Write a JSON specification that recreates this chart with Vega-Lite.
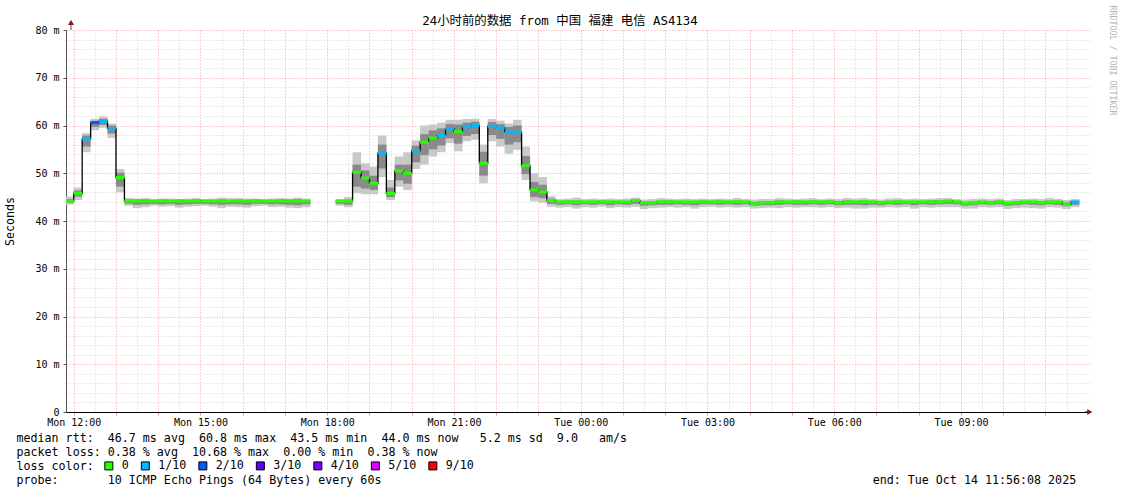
{
 "$schema": "https://vega.github.io/schema/vega-lite/v6.json",
 "width": 1024, "height": 382,
 "autosize": "none",
 "padding": {"left": 66, "top": 30, "right": 31, "bottom": 82},
 "background": "white",
 "config": {"view": {"stroke": null}, "font": "DejaVu Sans Mono"},
 "title": {"text": "24小时前的数据 from 中国 福建 电信 AS4134", "anchor": "middle", "frame": "group", "dx": -18, "dy": 26, "font": "DejaVu Sans Mono, Noto Sans CJK SC", "fontSize": 12.4, "fontWeight": "normal", "color": "#000"},
 "data": {"values": [
  {"t":"2025-10-13T11:54:00Z","lo":43.4,"l2":43.8,"m":44.2,"h2":44.6,"hi":45.1,"c":"0"},
  {"t":"2025-10-13T12:06:00Z","lo":44.4,"l2":45.1,"m":45.8,"h2":46.4,"hi":47.0,"c":"0"},
  {"t":"2025-10-13T12:18:00Z","lo":54.4,"l2":55.6,"m":57.2,"h2":57.9,"hi":58.4,"c":"1/10"},
  {"t":"2025-10-13T12:30:00Z","lo":59.0,"l2":59.7,"m":60.6,"h2":61.0,"hi":61.4,"c":"2/10"},
  {"t":"2025-10-13T12:42:00Z","lo":59.5,"l2":60.1,"m":60.9,"h2":61.4,"hi":61.9,"c":"1/10"},
  {"t":"2025-10-13T12:54:00Z","lo":57.4,"l2":58.3,"m":59.4,"h2":60.0,"hi":60.4,"c":"1/10"},
  {"t":"2025-10-13T13:06:00Z","lo":46.0,"l2":47.2,"m":49.1,"h2":50.1,"hi":50.9,"c":"0"},
  {"t":"2025-10-13T13:18:00Z","lo":43.2,"l2":43.6,"m":44.2,"h2":44.5,"hi":44.8,"c":"0"},
  {"t":"2025-10-13T13:30:00Z","lo":42.7,"l2":43.4,"m":44.2,"h2":44.5,"hi":44.7,"c":"0"},
  {"t":"2025-10-13T13:42:00Z","lo":42.9,"l2":43.5,"m":44.2,"h2":44.5,"hi":44.8,"c":"0"},
  {"t":"2025-10-13T13:54:00Z","lo":43.2,"l2":43.6,"m":44.2,"h2":44.4,"hi":44.6,"c":"0"},
  {"t":"2025-10-13T14:06:00Z","lo":43.0,"l2":43.5,"m":44.2,"h2":44.5,"hi":44.7,"c":"0"},
  {"t":"2025-10-13T14:18:00Z","lo":43.1,"l2":43.6,"m":44.2,"h2":44.4,"hi":44.7,"c":"0"},
  {"t":"2025-10-13T14:30:00Z","lo":42.8,"l2":43.4,"m":44.2,"h2":44.5,"hi":44.6,"c":"0"},
  {"t":"2025-10-13T14:42:00Z","lo":43.0,"l2":43.5,"m":44.2,"h2":44.4,"hi":44.7,"c":"0"},
  {"t":"2025-10-13T14:54:00Z","lo":43.1,"l2":43.6,"m":44.2,"h2":44.5,"hi":44.8,"c":"0"},
  {"t":"2025-10-13T15:06:00Z","lo":43.2,"l2":43.6,"m":44.2,"h2":44.4,"hi":44.6,"c":"0"},
  {"t":"2025-10-13T15:18:00Z","lo":43.0,"l2":43.5,"m":44.2,"h2":44.4,"hi":44.7,"c":"0"},
  {"t":"2025-10-13T15:30:00Z","lo":42.7,"l2":43.4,"m":44.2,"h2":44.5,"hi":44.9,"c":"0"},
  {"t":"2025-10-13T15:42:00Z","lo":43.0,"l2":43.5,"m":44.2,"h2":44.4,"hi":44.8,"c":"0"},
  {"t":"2025-10-13T15:54:00Z","lo":42.9,"l2":43.5,"m":44.2,"h2":44.5,"hi":44.8,"c":"0"},
  {"t":"2025-10-13T16:06:00Z","lo":42.8,"l2":43.4,"m":44.2,"h2":44.4,"hi":44.7,"c":"0"},
  {"t":"2025-10-13T16:18:00Z","lo":43.1,"l2":43.6,"m":44.2,"h2":44.5,"hi":44.7,"c":"0"},
  {"t":"2025-10-13T16:30:00Z","lo":43.2,"l2":43.6,"m":44.2,"h2":44.4,"hi":44.6,"c":"0"},
  {"t":"2025-10-13T16:42:00Z","lo":42.9,"l2":43.5,"m":44.2,"h2":44.4,"hi":44.7,"c":"0"},
  {"t":"2025-10-13T16:54:00Z","lo":43.0,"l2":43.5,"m":44.2,"h2":44.5,"hi":44.8,"c":"0"},
  {"t":"2025-10-13T17:06:00Z","lo":42.8,"l2":43.4,"m":44.2,"h2":44.5,"hi":44.7,"c":"0"},
  {"t":"2025-10-13T17:18:00Z","lo":42.7,"l2":43.3,"m":44.2,"h2":44.6,"hi":44.9,"c":"0"},
  {"t":"2025-10-13T17:30:00Z","lo":42.9,"l2":43.5,"m":44.2,"h2":44.4,"hi":44.7,"c":"0"},
  {"t":"2025-10-13T17:42:00Z","lo":null,"l2":null,"m":null,"h2":null,"hi":null,"c":"0"},
  {"t":"2025-10-13T17:54:00Z","lo":null,"l2":null,"m":null,"h2":null,"hi":null,"c":"0"},
  {"t":"2025-10-13T18:06:00Z","lo":null,"l2":null,"m":null,"h2":null,"hi":null,"c":"0"},
  {"t":"2025-10-13T18:18:00Z","lo":43.2,"l2":43.6,"m":44.2,"h2":44.4,"hi":44.6,"c":"0"},
  {"t":"2025-10-13T18:30:00Z","lo":42.9,"l2":43.4,"m":44.2,"h2":44.5,"hi":45.0,"c":"0"},
  {"t":"2025-10-13T18:42:00Z","lo":45.8,"l2":47.2,"m":50.2,"h2":51.8,"hi":54.4,"c":"0"},
  {"t":"2025-10-13T18:54:00Z","lo":45.6,"l2":46.8,"m":49.0,"h2":50.6,"hi":52.1,"c":"0"},
  {"t":"2025-10-13T19:06:00Z","lo":45.6,"l2":46.5,"m":47.9,"h2":49.5,"hi":51.4,"c":"0"},
  {"t":"2025-10-13T19:18:00Z","lo":49.2,"l2":51.0,"m":54.2,"h2":56.0,"hi":57.9,"c":"1/10"},
  {"t":"2025-10-13T19:30:00Z","lo":44.4,"l2":45.0,"m":45.8,"h2":47.0,"hi":48.6,"c":"0"},
  {"t":"2025-10-13T19:42:00Z","lo":47.2,"l2":48.5,"m":50.5,"h2":51.8,"hi":53.5,"c":"0"},
  {"t":"2025-10-13T19:54:00Z","lo":46.5,"l2":47.8,"m":50.0,"h2":51.8,"hi":54.4,"c":"0"},
  {"t":"2025-10-13T20:06:00Z","lo":50.9,"l2":52.3,"m":54.7,"h2":55.8,"hi":56.9,"c":"1/10"},
  {"t":"2025-10-13T20:18:00Z","lo":51.8,"l2":53.8,"m":56.5,"h2":58.2,"hi":60.0,"c":"0"},
  {"t":"2025-10-13T20:30:00Z","lo":53.5,"l2":55.0,"m":57.4,"h2":59.0,"hi":60.2,"c":"0"},
  {"t":"2025-10-13T20:42:00Z","lo":54.4,"l2":55.8,"m":57.9,"h2":59.4,"hi":60.6,"c":"1/10"},
  {"t":"2025-10-13T20:54:00Z","lo":56.3,"l2":57.3,"m":59.3,"h2":60.3,"hi":61.2,"c":"1/10"},
  {"t":"2025-10-13T21:06:00Z","lo":54.6,"l2":56.2,"m":58.7,"h2":60.2,"hi":61.2,"c":"0"},
  {"t":"2025-10-13T21:18:00Z","lo":56.7,"l2":57.8,"m":59.7,"h2":60.6,"hi":61.4,"c":"1/10"},
  {"t":"2025-10-13T21:30:00Z","lo":57.0,"l2":58.2,"m":60.0,"h2":60.8,"hi":61.4,"c":"1/10"},
  {"t":"2025-10-13T21:42:00Z","lo":47.9,"l2":49.5,"m":52.1,"h2":54.5,"hi":56.0,"c":"0"},
  {"t":"2025-10-13T21:54:00Z","lo":56.7,"l2":58.0,"m":59.8,"h2":60.7,"hi":61.4,"c":"1/10"},
  {"t":"2025-10-13T22:06:00Z","lo":55.6,"l2":57.2,"m":59.5,"h2":60.3,"hi":61.0,"c":"1/10"},
  {"t":"2025-10-13T22:18:00Z","lo":54.1,"l2":56.0,"m":58.6,"h2":59.7,"hi":60.4,"c":"1/10"},
  {"t":"2025-10-13T22:30:00Z","lo":54.9,"l2":56.5,"m":58.6,"h2":60.0,"hi":61.2,"c":"1/10"},
  {"t":"2025-10-13T22:42:00Z","lo":48.6,"l2":49.8,"m":51.6,"h2":53.6,"hi":55.6,"c":"0"},
  {"t":"2025-10-13T22:54:00Z","lo":44.1,"l2":45.0,"m":46.5,"h2":48.2,"hi":50.0,"c":"0"},
  {"t":"2025-10-13T23:06:00Z","lo":43.8,"l2":44.8,"m":46.1,"h2":47.6,"hi":49.2,"c":"0"},
  {"t":"2025-10-13T23:18:00Z","lo":43.0,"l2":43.6,"m":44.3,"h2":44.7,"hi":45.2,"c":"0"},
  {"t":"2025-10-13T23:30:00Z","lo":42.8,"l2":43.4,"m":44.0,"h2":44.2,"hi":44.6,"c":"0"},
  {"t":"2025-10-13T23:42:00Z","lo":42.9,"l2":43.5,"m":44.0,"h2":44.3,"hi":44.7,"c":"0"},
  {"t":"2025-10-13T23:54:00Z","lo":42.6,"l2":43.3,"m":44.0,"h2":44.3,"hi":44.9,"c":"0"},
  {"t":"2025-10-14T00:06:00Z","lo":42.9,"l2":43.5,"m":44.0,"h2":44.2,"hi":44.6,"c":"0"},
  {"t":"2025-10-14T00:18:00Z","lo":42.8,"l2":43.4,"m":44.0,"h2":44.2,"hi":44.7,"c":"0"},
  {"t":"2025-10-14T00:30:00Z","lo":43.0,"l2":43.5,"m":44.0,"h2":44.3,"hi":44.6,"c":"0"},
  {"t":"2025-10-14T00:42:00Z","lo":42.7,"l2":43.3,"m":44.0,"h2":44.2,"hi":44.7,"c":"0"},
  {"t":"2025-10-14T00:54:00Z","lo":42.9,"l2":43.5,"m":44.0,"h2":44.2,"hi":44.6,"c":"0"},
  {"t":"2025-10-14T01:06:00Z","lo":42.8,"l2":43.4,"m":44.0,"h2":44.2,"hi":44.7,"c":"0"},
  {"t":"2025-10-14T01:18:00Z","lo":43.0,"l2":43.6,"m":44.3,"h2":44.5,"hi":44.9,"c":"0"},
  {"t":"2025-10-14T01:30:00Z","lo":42.5,"l2":43.2,"m":43.8,"h2":44.1,"hi":44.5,"c":"0"},
  {"t":"2025-10-14T01:42:00Z","lo":42.7,"l2":43.3,"m":43.8,"h2":44.1,"hi":44.6,"c":"0"},
  {"t":"2025-10-14T01:54:00Z","lo":42.8,"l2":43.4,"m":44.0,"h2":44.3,"hi":44.8,"c":"0"},
  {"t":"2025-10-14T02:06:00Z","lo":42.9,"l2":43.4,"m":44.0,"h2":44.3,"hi":44.7,"c":"0"},
  {"t":"2025-10-14T02:18:00Z","lo":42.8,"l2":43.5,"m":44.0,"h2":44.2,"hi":44.6,"c":"0"},
  {"t":"2025-10-14T02:30:00Z","lo":42.9,"l2":43.4,"m":44.0,"h2":44.2,"hi":44.7,"c":"0"},
  {"t":"2025-10-14T02:42:00Z","lo":42.6,"l2":43.3,"m":44.0,"h2":44.2,"hi":44.6,"c":"0"},
  {"t":"2025-10-14T02:54:00Z","lo":42.9,"l2":43.5,"m":44.0,"h2":44.3,"hi":44.7,"c":"0"},
  {"t":"2025-10-14T03:06:00Z","lo":43.0,"l2":43.5,"m":44.0,"h2":44.2,"hi":44.6,"c":"0"},
  {"t":"2025-10-14T03:18:00Z","lo":42.8,"l2":43.4,"m":44.0,"h2":44.3,"hi":44.7,"c":"0"},
  {"t":"2025-10-14T03:30:00Z","lo":42.9,"l2":43.5,"m":44.0,"h2":44.2,"hi":44.6,"c":"0"},
  {"t":"2025-10-14T03:42:00Z","lo":42.8,"l2":43.4,"m":44.0,"h2":44.3,"hi":44.8,"c":"0"},
  {"t":"2025-10-14T03:54:00Z","lo":42.9,"l2":43.5,"m":44.0,"h2":44.2,"hi":44.6,"c":"0"},
  {"t":"2025-10-14T04:06:00Z","lo":42.6,"l2":43.2,"m":43.6,"h2":44.0,"hi":44.5,"c":"0"},
  {"t":"2025-10-14T04:18:00Z","lo":42.7,"l2":43.3,"m":43.8,"h2":44.1,"hi":44.6,"c":"0"},
  {"t":"2025-10-14T04:30:00Z","lo":42.8,"l2":43.3,"m":43.8,"h2":44.1,"hi":44.6,"c":"0"},
  {"t":"2025-10-14T04:42:00Z","lo":42.7,"l2":43.4,"m":44.0,"h2":44.3,"hi":44.8,"c":"0"},
  {"t":"2025-10-14T04:54:00Z","lo":42.9,"l2":43.5,"m":44.0,"h2":44.2,"hi":44.7,"c":"0"},
  {"t":"2025-10-14T05:06:00Z","lo":42.8,"l2":43.4,"m":44.0,"h2":44.3,"hi":44.6,"c":"0"},
  {"t":"2025-10-14T05:18:00Z","lo":42.9,"l2":43.4,"m":44.0,"h2":44.2,"hi":44.7,"c":"0"},
  {"t":"2025-10-14T05:30:00Z","lo":42.9,"l2":43.5,"m":44.0,"h2":44.3,"hi":44.8,"c":"0"},
  {"t":"2025-10-14T05:42:00Z","lo":42.8,"l2":43.4,"m":44.0,"h2":44.2,"hi":44.6,"c":"0"},
  {"t":"2025-10-14T05:54:00Z","lo":42.9,"l2":43.5,"m":44.0,"h2":44.3,"hi":44.7,"c":"0"},
  {"t":"2025-10-14T06:06:00Z","lo":42.7,"l2":43.3,"m":43.8,"h2":44.1,"hi":44.6,"c":"0"},
  {"t":"2025-10-14T06:18:00Z","lo":42.8,"l2":43.4,"m":44.0,"h2":44.3,"hi":44.8,"c":"0"},
  {"t":"2025-10-14T06:30:00Z","lo":42.6,"l2":43.4,"m":44.0,"h2":44.2,"hi":44.7,"c":"0"},
  {"t":"2025-10-14T06:42:00Z","lo":42.6,"l2":43.3,"m":44.0,"h2":44.3,"hi":44.8,"c":"0"},
  {"t":"2025-10-14T06:54:00Z","lo":42.8,"l2":43.4,"m":44.0,"h2":44.2,"hi":44.6,"c":"0"},
  {"t":"2025-10-14T07:06:00Z","lo":42.8,"l2":43.3,"m":43.8,"h2":44.1,"hi":44.5,"c":"0"},
  {"t":"2025-10-14T07:18:00Z","lo":42.9,"l2":43.5,"m":44.0,"h2":44.2,"hi":44.7,"c":"0"},
  {"t":"2025-10-14T07:30:00Z","lo":42.8,"l2":43.4,"m":44.0,"h2":44.3,"hi":44.8,"c":"0"},
  {"t":"2025-10-14T07:42:00Z","lo":42.9,"l2":43.5,"m":44.0,"h2":44.2,"hi":44.6,"c":"0"},
  {"t":"2025-10-14T07:54:00Z","lo":42.6,"l2":43.3,"m":44.0,"h2":44.2,"hi":44.7,"c":"0"},
  {"t":"2025-10-14T08:06:00Z","lo":42.9,"l2":43.5,"m":44.0,"h2":44.2,"hi":44.6,"c":"0"},
  {"t":"2025-10-14T08:18:00Z","lo":42.8,"l2":43.4,"m":44.0,"h2":44.3,"hi":44.7,"c":"0"},
  {"t":"2025-10-14T08:30:00Z","lo":42.9,"l2":43.5,"m":44.0,"h2":44.3,"hi":44.8,"c":"0"},
  {"t":"2025-10-14T08:42:00Z","lo":42.9,"l2":43.6,"m":44.2,"h2":44.4,"hi":44.8,"c":"0"},
  {"t":"2025-10-14T08:54:00Z","lo":42.9,"l2":43.5,"m":44.0,"h2":44.2,"hi":44.6,"c":"0"},
  {"t":"2025-10-14T09:06:00Z","lo":42.6,"l2":43.2,"m":43.7,"h2":44.0,"hi":44.5,"c":"0"},
  {"t":"2025-10-14T09:18:00Z","lo":42.6,"l2":43.3,"m":43.8,"h2":44.1,"hi":44.6,"c":"0"},
  {"t":"2025-10-14T09:30:00Z","lo":42.9,"l2":43.5,"m":44.0,"h2":44.2,"hi":44.7,"c":"0"},
  {"t":"2025-10-14T09:42:00Z","lo":42.8,"l2":43.4,"m":43.8,"h2":44.1,"hi":44.6,"c":"0"},
  {"t":"2025-10-14T09:54:00Z","lo":42.9,"l2":43.5,"m":44.0,"h2":44.3,"hi":44.7,"c":"0"},
  {"t":"2025-10-14T10:06:00Z","lo":42.5,"l2":43.2,"m":43.7,"h2":44.0,"hi":44.4,"c":"0"},
  {"t":"2025-10-14T10:18:00Z","lo":42.7,"l2":43.3,"m":43.8,"h2":44.1,"hi":44.6,"c":"0"},
  {"t":"2025-10-14T10:30:00Z","lo":42.8,"l2":43.5,"m":44.0,"h2":44.2,"hi":44.6,"c":"0"},
  {"t":"2025-10-14T10:42:00Z","lo":42.7,"l2":43.4,"m":44.0,"h2":44.2,"hi":44.7,"c":"0"},
  {"t":"2025-10-14T10:54:00Z","lo":42.6,"l2":43.3,"m":43.8,"h2":44.1,"hi":44.6,"c":"0"},
  {"t":"2025-10-14T11:06:00Z","lo":42.9,"l2":43.5,"m":44.0,"h2":44.3,"hi":44.8,"c":"0"},
  {"t":"2025-10-14T11:18:00Z","lo":42.8,"l2":43.4,"m":44.0,"h2":44.2,"hi":44.6,"c":"0"},
  {"t":"2025-10-14T11:30:00Z","lo":42.5,"l2":43.1,"m":43.5,"h2":43.9,"hi":44.4,"c":"0"},
  {"t":"2025-10-14T11:42:00Z","lo":42.9,"l2":43.4,"m":44.0,"h2":44.2,"hi":44.6,"c":"1/10"}
 ]},
 "layer": [
  {
   "mark": {"type": "bar", "width": 8.6, "color": "#c9c9c9", "opacity": 1, "clip": true},
   "encoding": {
    "x": {"field": "t", "type": "temporal",
     "scale": {"type": "utc", "domain": [1760356568000, 1760442968000]},
     "axis": {
      "orient": "bottom",
      "values": [1760356800000,1760358600000,1760360400000,1760362200000,1760364000000,1760365800000,1760367600000,1760369400000,1760371200000,1760373000000,1760374800000,1760376600000,1760378400000,1760380200000,1760382000000,1760383800000,1760385600000,1760387400000,1760389200000,1760391000000,1760392800000,1760394600000,1760396400000,1760398200000,1760400000000,1760401800000,1760403600000,1760405400000,1760407200000,1760409000000,1760410800000,1760412600000,1760414400000,1760416200000,1760418000000,1760419800000,1760421600000,1760423400000,1760425200000,1760427000000,1760428800000,1760430600000,1760432400000,1760434200000,1760436000000,1760437800000,1760439600000,1760441400000],
      "grid": true,
      "gridColor": {"condition": {"test": "utcminutes(datum.value) === 0", "value": "#f2a0a0"}, "value": "#d4d4d4"},
      "gridDash": [1, 2],
      "domainColor": "#000",
      "tickSize": 3, "tickColor": "#e89090",
      "tickOpacity": {"condition": {"test": "utcminutes(datum.value) === 0", "value": 1}, "value": 0},
      "labelExpr": "utcminutes(datum.value) === 0 && utchours(datum.value) % 3 === 0 ? utcFormat(datum.value, '%a %H:%M') : ''",
      "labelFont": "DejaVu Sans Mono", "labelFontSize": 10, "labelColor": "#000", "labelPadding": 2,
      "labelOverlap": false, "labelFlush": false, "labelBound": false,
      "title": null
     }
    },
    "y": {"field": "lo", "type": "quantitative",
     "scale": {"domain": [0, 80], "nice": false, "zero": false},
     "axis": {
      "values": [0,2,4,6,8,10,12,14,16,18,20,22,24,26,28,30,32,34,36,38,40,42,44,46,48,50,52,54,56,58,60,62,64,66,68,70,72,74,76,78,80],
      "grid": true,
      "gridColor": {"condition": {"test": "datum.value % 10 === 0", "value": "#f2a0a0"}, "value": "#d4d4d4"},
      "gridDash": [1, 2],
      "domainColor": "#555",
      "tickSize": 3, "tickColor": "#555",
      "tickOpacity": {"condition": {"test": "datum.value % 10 === 0", "value": 1}, "value": 0},
      "labelExpr": "datum.value % 10 === 0 ? (datum.value === 0 ? '0\u00a0\u00a0' : datum.value + '\u00a0m') : ''",
      "labelFont": "DejaVu Sans Mono", "labelFontSize": 10, "labelColor": "#000", "labelPadding": 4, "labelBaseline": "middle",
      "labelOverlap": false, "labelFlush": false, "labelBound": false,
      "title": "Seconds",
      "titleFont": "DejaVu Sans Mono", "titleFontSize": 11.66, "titleFontWeight": "normal", "titleColor": "#000",
      "titleX": -56, "titleY": 191, "titleAlign": "center", "titleBaseline": "middle", "titleAngle": -90
     }
    },
    "y2": {"field": "hi"}
   }
  },
  {
   "mark": {"type": "bar", "width": 8.6, "color": "#8a8a8a", "opacity": 1, "clip": true},
   "encoding": {
    "x": {"field": "t", "type": "temporal", "axis": null},
    "y": {"field": "l2", "type": "quantitative", "axis": null},
    "y2": {"field": "h2"}
   }
  },
  {
   "mark": {"type": "line", "interpolate": "step", "color": "#000", "strokeWidth": 1.3, "clip": true, "invalid": "break-paths-filter-domains"},
   "encoding": {
    "x": {"field": "t", "type": "temporal",
     "axis": {
      "orient": "bottom", "labels": false, "ticks": false, "domain": false, "grid": false,
      "title": [
       "median\u00a0rtt:\u00a0\u00a046.7\u00a0ms\u00a0avg\u00a0\u00a060.8\u00a0ms\u00a0max\u00a0\u00a043.5\u00a0ms\u00a0min\u00a0\u00a044.0\u00a0ms\u00a0now\u00a0\u00a0\u00a05.2\u00a0ms\u00a0sd\u00a0\u00a09.0\u00a0\u00a0\u00a0am/s",
       "packet\u00a0loss:\u00a00.38\u00a0%\u00a0avg\u00a0\u00a010.68\u00a0%\u00a0max\u00a0\u00a00.00\u00a0%\u00a0min\u00a0\u00a00.38\u00a0%\u00a0now",
       "loss\u00a0color:",
       "probe:\u00a0\u00a0\u00a0\u00a0\u00a0\u00a0\u00a010\u00a0ICMP\u00a0Echo\u00a0Pings\u00a0(64\u00a0Bytes)\u00a0every\u00a060s\u00a0\u00a0\u00a0\u00a0\u00a0\u00a0\u00a0\u00a0\u00a0\u00a0\u00a0\u00a0\u00a0\u00a0\u00a0\u00a0\u00a0\u00a0\u00a0\u00a0\u00a0\u00a0\u00a0\u00a0\u00a0\u00a0\u00a0\u00a0\u00a0\u00a0\u00a0\u00a0\u00a0\u00a0\u00a0\u00a0\u00a0\u00a0\u00a0\u00a0\u00a0\u00a0\u00a0\u00a0\u00a0\u00a0\u00a0\u00a0\u00a0\u00a0\u00a0\u00a0\u00a0\u00a0\u00a0\u00a0\u00a0\u00a0\u00a0\u00a0\u00a0\u00a0\u00a0\u00a0\u00a0\u00a0\u00a0\u00a0\u00a0\u00a0end:\u00a0Tue\u00a0Oct\u00a014\u00a011:56:08\u00a02025"
      ],
      "titleFont": "DejaVu Sans Mono", "titleFontSize": 11.66, "titleFontWeight": "normal", "titleColor": "#000",
      "titleAlign": "left", "titleBaseline": "alphabetic", "titleLimit": 2000,
      "titleX": -50, "titleY": 29.5, "titleLineHeight": 14
     }
    },
    "y": {"field": "m", "type": "quantitative", "axis": null}
   }
  },
  {
   "mark": {"type": "tick", "orient": "horizontal", "thickness": 3, "opacity": 1, "clip": true},
   "encoding": {
    "x": {"field": "t", "type": "temporal", "axis": null},
    "y": {"field": "m", "type": "quantitative", "axis": null},
    "size": {"value": 8.7},
    "color": {"field": "c", "type": "nominal",
     "scale": {"domain": ["0", "1/10", "2/10", "3/10", "4/10", "5/10", "9/10"], "range": ["#26ff00", "#00b8ff", "#0059ff", "#5e00ff", "#7e00ff", "#dd00ff", "#ff0000"]},
     "legend": {
      "orient": "none", "legendX": 37, "legendY": 430, "direction": "horizontal", "columns": 7,
      "title": null,
      "labelFont": "DejaVu Sans Mono", "labelFontSize": 11.66, "labelColor": "#000", "labelOffset": 7,
      "symbolType": "square", "symbolSize": 64, "symbolStrokeColor": "#000", "symbolStrokeWidth": 1, "symbolOpacity": 1,
      "columnPadding": 9.5, "padding": 0, "rowPadding": 0,
      "encode": {"symbols": {"update": {"stroke": {"value": "#000"}, "strokeWidth": {"value": 1}, "opacity": {"value": 1}}}}
     }
    }
   }
  },
  {
   "data": {"values": [{}]},
   "mark": {"type": "rule", "color": "#555", "strokeWidth": 1, "clip": false},
   "encoding": {
    "x": {"datum": 1760356568000, "type": "temporal", "axis": null},
    "y": {"datum": 80, "type": "quantitative",
     "axis": {"orient": "right", "title": "RRDTOOL / TOBI OETIKER", "labels": false, "ticks": false, "domain": false, "grid": false,
      "titleAngle": 90, "titleFont": "DejaVu Sans Mono", "titleFontSize": 8.3, "titleFontWeight": "normal", "titleColor": "#b4b4b4",
      "titleAlign": "left", "titleBaseline": "middle", "titleX": 21, "titleY": -25}},
    "y2": {"datum": 81.5}
   }
  },
  {
   "data": {"values": [{}]},
   "mark": {"type": "point", "shape": "triangle-up", "filled": true, "size": 36, "color": "#8b1a1a", "opacity": 1, "clip": false},
   "encoding": {
    "x": {"datum": 1760356568000, "type": "temporal", "axis": null},
    "y": {"datum": 81.6, "type": "quantitative", "axis": null}
   }
  },
  {
   "data": {"values": [{}]},
   "mark": {"type": "rule", "color": "#000", "strokeWidth": 1, "clip": false},
   "encoding": {
    "x": {"datum": 1760442968000, "type": "temporal", "axis": null},
    "x2": {"datum": 1760443320000},
    "y": {"datum": 0, "type": "quantitative", "axis": null}
   }
  },
  {
   "data": {"values": [{}]},
   "mark": {"type": "point", "shape": "triangle-right", "filled": true, "size": 36, "color": "#8b1a1a", "opacity": 1, "clip": false},
   "encoding": {
    "x": {"datum": 1760443380000, "type": "temporal", "axis": null},
    "y": {"datum": 0, "type": "quantitative", "axis": null}
   }
  }
 ],
 "resolve": {"axis": {"y": "independent", "x": "independent"}}
}
